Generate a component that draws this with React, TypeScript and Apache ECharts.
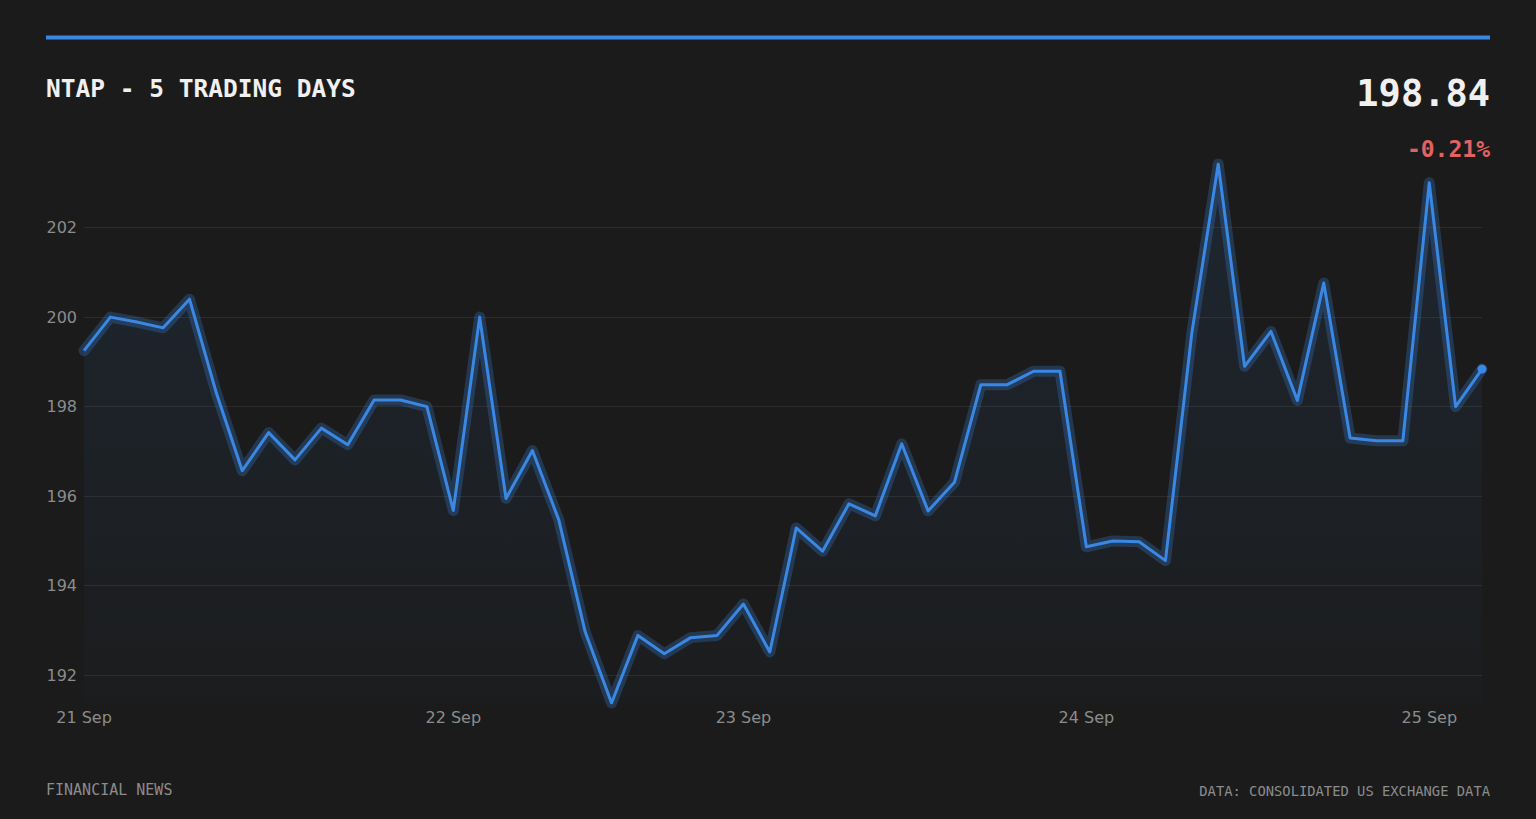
import { useEffect, useRef } from 'react';
import * as echarts from 'echarts';

// one label per trading day, and how many samples fall in each day
const dayLabels = ['21 Sep', '22 Sep', '23 Sep', '24 Sep', '25 Sep'];
const dayCounts = [14, 11, 13, 13, 3];

const prices = [
  199.25, 200.0, 199.89, 199.76, 200.4, 198.34, 196.57, 197.42, 196.81, 197.52,
  197.15, 198.15, 198.15, 198.0, 195.68, 200.0, 195.95, 197.02, 195.47, 192.97,
  191.38, 192.89, 192.48, 192.84, 192.89, 193.59, 192.52, 195.29, 194.77, 195.83,
  195.56, 197.17, 195.67, 196.31, 198.49, 198.49, 198.79, 198.79, 194.87, 195.0,
  194.98, 194.56, 199.65, 203.42, 198.9, 199.68, 198.14, 200.76, 197.3, 197.24,
  197.24, 203.0, 198.0, 198.84,
];

const title = 'NTAP - 5 TRADING DAYS';
const lastPrice = '198.84';
const change = '-0.21%';
const sourceLeft = 'FINANCIAL NEWS';
const sourceRight = 'DATA: CONSOLIDATED US EXCHANGE DATA';

const BLUE = '#3a88e4';
const MONO = "'DejaVu Sans Mono', monospace";
const SANS = "'DejaVu Sans', sans-serif";

const categories: string[] = dayLabels.flatMap((d, i) =>
  Array.from({ length: dayCounts[i] }, () => d),
);

export default function App() {
  const chartRef = useRef<HTMLDivElement>(null);

  useEffect(() => {
    if (!chartRef.current) return;
    const chart = echarts.init(chartRef.current, null, { renderer: 'svg' });
    const last = prices.length - 1;

    chart.setOption({
      animation: false,
      backgroundColor: '#1b1b1b',
      grid: { left: 84, right: 54, top: 164, bottom: 116 },
      xAxis: {
        type: 'category',
        data: categories,
        boundaryGap: false,
        axisLine: { show: false },
        axisTick: { show: false },
        splitLine: { show: false },
        axisLabel: {
          color: '#8c8c8c',
          fontFamily: SANS,
          fontSize: 16,
          margin: 6,
          interval: (index: number, value: string) =>
            index === 0 || categories[index - 1] !== value,
        },
      },
      yAxis: {
        type: 'value',
        min: 'dataMin',
        max: 'dataMax',
        axisLine: { show: false },
        axisTick: { show: false },
        axisLabel: {
          color: '#8c8c8c',
          fontFamily: SANS,
          fontSize: 16,
          margin: 7,
          showMinLabel: false,
          showMaxLabel: false,
        },
        splitLine: {
          showMinLine: false,
          showMaxLine: false,
          lineStyle: { color: 'rgba(255,255,255,0.08)', width: 1 },
        },
      },
      series: [
        {
          // soft halo under the price line
          type: 'line',
          data: prices,
          symbol: 'none',
          silent: true,
          z: 1,
          lineStyle: {
            color: 'rgba(58,136,228,0.26)',
            width: 11,
            join: 'round',
            cap: 'round',
          },
        },
        {
          type: 'line',
          data: prices.map((v, i) =>
            i === last ? { value: v, symbol: 'circle', symbolSize: 9 } : v,
          ),
          symbol: 'circle',
          symbolSize: 0,
          showSymbol: true,
          z: 2,
          itemStyle: { color: BLUE },
          lineStyle: { color: BLUE, width: 3, join: 'round' },
          areaStyle: {
            color: new echarts.graphic.LinearGradient(0, 0, 0, 1, [
              { offset: 0, color: 'rgba(58,136,228,0.15)' },
              { offset: 1, color: 'rgba(58,136,228,0.02)' },
            ]),
          },
        },
      ],
      graphic: [
        {
          type: 'rect',
          left: 46,
          top: 35.5,
          shape: { width: 1444, height: 4 },
          style: { fill: BLUE },
        },
        {
          type: 'text',
          x: 46,
          y: 88.5,
          style: {
            text: title,
            fill: '#f0f0f0',
            font: `bold 24.5px ${MONO}`,
            textAlign: 'left',
            textVerticalAlign: 'middle',
          },
        },
        {
          type: 'text',
          x: 1490,
          y: 93,
          style: {
            text: lastPrice,
            fill: '#f0f0f0',
            font: `bold 37px ${MONO}`,
            textAlign: 'right',
            textVerticalAlign: 'middle',
          },
        },
        {
          type: 'text',
          x: 1490,
          y: 149,
          style: {
            text: change,
            fill: '#e06262',
            font: `bold 23px ${MONO}`,
            textAlign: 'right',
            textVerticalAlign: 'middle',
          },
        },
        {
          type: 'text',
          x: 46,
          y: 790,
          style: {
            text: sourceLeft,
            fill: '#8c8c8c',
            font: `15px ${MONO}`,
            textAlign: 'left',
            textVerticalAlign: 'middle',
          },
        },
        {
          type: 'text',
          x: 1490,
          y: 791,
          style: {
            text: sourceRight,
            fill: '#8c8c8c',
            font: `13.8px ${MONO}`,
            textAlign: 'right',
            textVerticalAlign: 'middle',
          },
        },
      ],
    });

    return () => {
      chart.dispose();
    };
  }, []);

  return (
    <div
      ref={chartRef}
      style={{
        position: 'fixed',
        left: 0,
        top: 0,
        width: '1536px',
        height: '819px',
        background: '#1b1b1b',
      }}
    />
  );
}
